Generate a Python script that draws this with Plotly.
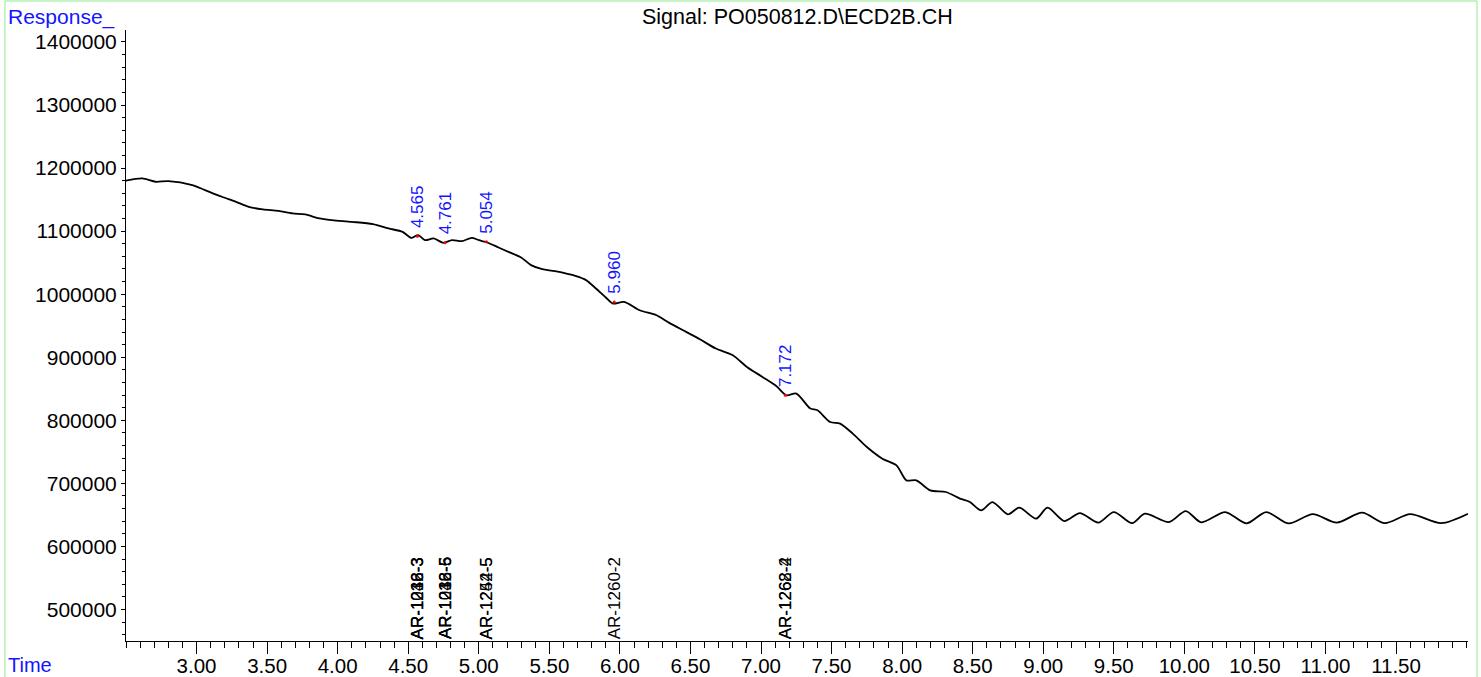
import plotly.graph_objects as go

# ---- data ----
time_min = [2.497, 2.615, 2.71, 2.80, 2.97, 3.06, 3.18, 3.28, 3.37, 3.47, 3.58, 3.68, 3.77,
            3.87, 3.96, 4.10, 4.25, 4.36, 4.46, 4.52, 4.57, 4.62, 4.68, 4.75, 4.81, 4.88,
            4.95, 5.00, 5.06, 5.14, 5.21, 5.30, 5.37, 5.45, 5.54, 5.69, 5.76, 5.83, 5.90,
            5.95, 6.03, 6.14, 6.26, 6.35, 6.47, 6.57, 6.68, 6.80, 6.90, 7.01, 7.11, 7.18,
            7.25, 7.35, 7.40, 7.49, 7.56, 7.65, 7.75, 7.86, 7.96, 8.03, 8.10, 8.20, 8.31,
            8.41, 8.48, 8.56, 8.64, 8.75, 8.83, 8.95, 9.03, 9.15, 9.26, 9.39, 9.50, 9.63,
            9.72, 9.89, 10.01, 10.12, 10.29, 10.44, 10.58, 10.74, 10.91, 11.08, 11.26,
            11.42, 11.60, 11.82, 12.01]
response = [1179900, 1183700, 1178300, 1179400, 1173000, 1165100, 1154500, 1146500, 1138600,
            1134500, 1132200, 1128100, 1126500, 1120200, 1117500, 1114800, 1111200, 1104300,
            1098900, 1089400, 1093700, 1085700, 1088400, 1081500, 1085700, 1084100, 1089400,
            1085700, 1082000, 1074100, 1067200, 1058300, 1046100, 1039700, 1036500, 1028600,
            1022300, 1009100, 994800, 985200, 987800, 974600, 966700, 954500, 940200, 928100,
            913800, 903200, 884600, 868800, 854000, 839700, 842400, 818600, 815900, 797300,
            794800, 778900, 757700, 739200, 728600, 704800, 704800, 688900, 686300, 675800,
            670400, 657300, 670400, 650900, 661500, 644000, 661500, 640200, 652900, 637700,
            654500, 637000, 651900, 638600, 656100, 638200, 654500, 636400, 654500, 636400,
            651200, 637700, 653500, 637000, 651200, 637000, 651900]

peak_times = [4.565, 4.761, 5.054, 5.960, 7.172]
peak_labels = ["4.565", "4.761", "5.054", "5.960", "7.172"]
peak_values = [1092000, 1081500, 1083000, 987800, 839700]

compound_times = [4.565, 4.565, 4.565, 4.761, 4.761, 4.761, 5.054, 5.054, 5.960, 7.172, 7.172]
compound_labels = ["AR-1232-3", "AR-1248-3", "AR-1016-3", "AR-1016-5", "AR-1248-5",
                   "AR-1232-6", "AR-1254-5", "AR-1242-5", "AR-1260-2", "AR-1262-4", "AR-1268-2"]

x_ticks = [3.0, 3.5, 4.0, 4.5, 5.0, 5.5, 6.0, 6.5, 7.0, 7.5, 8.0, 8.5, 9.0, 9.5, 10.0,
           10.5, 11.0, 11.5]
y_ticks = [500000, 600000, 700000, 800000, 900000, 1000000, 1100000, 1200000, 1300000, 1400000]

FONT = "Arial, Liberation Sans, sans-serif"
BLUE = "#1414ff"

fig = go.Figure()
fig.add_trace(go.Scatter(x=time_min, y=response, mode="lines",
                         line=dict(color="black", width=1.8, shape="spline", smoothing=0.8),
                         hoverinfo="skip"))
fig.add_trace(go.Scatter(x=peak_times, y=peak_values, mode="markers",
                         marker=dict(color="red", size=3), hoverinfo="skip"))

annotations = []
for t, lab, v in zip(peak_times, peak_labels, peak_values):
    annotations.append(dict(x=t, y=v, xref="x", yref="y", text=lab, textangle=-90,
                            showarrow=False, xanchor="center", yanchor="bottom", yshift=6,
                            font=dict(family=FONT, size=17, color=BLUE)))
for t, lab in zip(compound_times, compound_labels):
    annotations.append(dict(x=t, y=450000, xref="x", yref="y", text=lab, textangle=-90,
                            showarrow=False, xanchor="center", yanchor="bottom", yshift=0,
                            font=dict(family=FONT, size=17, color="black")))

annotations.append(dict(x=0.5, y=1.021, xref="paper", yref="paper",
                        text="Signal: PO050812.D\\ECD2B.CH", showarrow=False,
                        xanchor="center", yanchor="middle",
                        font=dict(family=FONT, size=21.5, color="black")))
annotations.append(dict(x=-0.0894, y=1.021, xref="paper", yref="paper", text="Response_",
                        showarrow=False, xanchor="left", yanchor="middle",
                        font=dict(family=FONT, size=21, color=BLUE)))
annotations.append(dict(x=-0.0894, y=-0.040, xref="paper", yref="paper", text="Time",
                        showarrow=False, xanchor="left", yanchor="middle",
                        font=dict(family=FONT, size=20, color=BLUE)))

fig.update_layout(
    width=1481, height=677,
    margin=dict(l=126, r=13, t=30, b=36, autoexpand=False),
    paper_bgcolor="white", plot_bgcolor="white",
    showlegend=False,
    annotations=annotations,
    shapes=[dict(type="rect", xref="paper", yref="paper", x0=-0.0902, x1=1.0067,
                 y0=-0.2, y1=1.0475, line=dict(color="#8fe88f", width=1),
                 fillcolor="rgba(0,0,0,0)", layer="below")],
    xaxis=dict(range=[2.5, 12.01], tickvals=x_ticks, ticktext=[f"{v:.2f}" for v in x_ticks],
               automargin=False, ticklabelstandoff=-6,
               showgrid=False, zeroline=False, showline=True, linecolor="black", linewidth=1,
               ticks="outside", ticklen=12, tickcolor="black", tickwidth=1,
               tickfont=dict(family=FONT, size=20.5, color="black"),
               minor=dict(dtick=0.1, tick0=0, ticks="outside", ticklen=6, tickcolor="black",
                          showgrid=False)),
    yaxis=dict(range=[450000, 1419000], tickvals=y_ticks, ticktext=[str(v) for v in y_ticks],
               automargin=False,
               showgrid=False, zeroline=False, showline=True, linecolor="black", linewidth=1,
               ticks="outside", ticklen=4, tickcolor="black", tickwidth=1,
               tickfont=dict(family=FONT, size=21, color="black"),
               minor=dict(dtick=20000, tick0=0, ticks="outside", ticklen=3, tickcolor="black",
                          showgrid=False)),
)

fig.write_html("out.html", config={"displayModeBar": False},
               post_script="document.body.style.margin='0px';document.body.style.overflow='hidden';")
